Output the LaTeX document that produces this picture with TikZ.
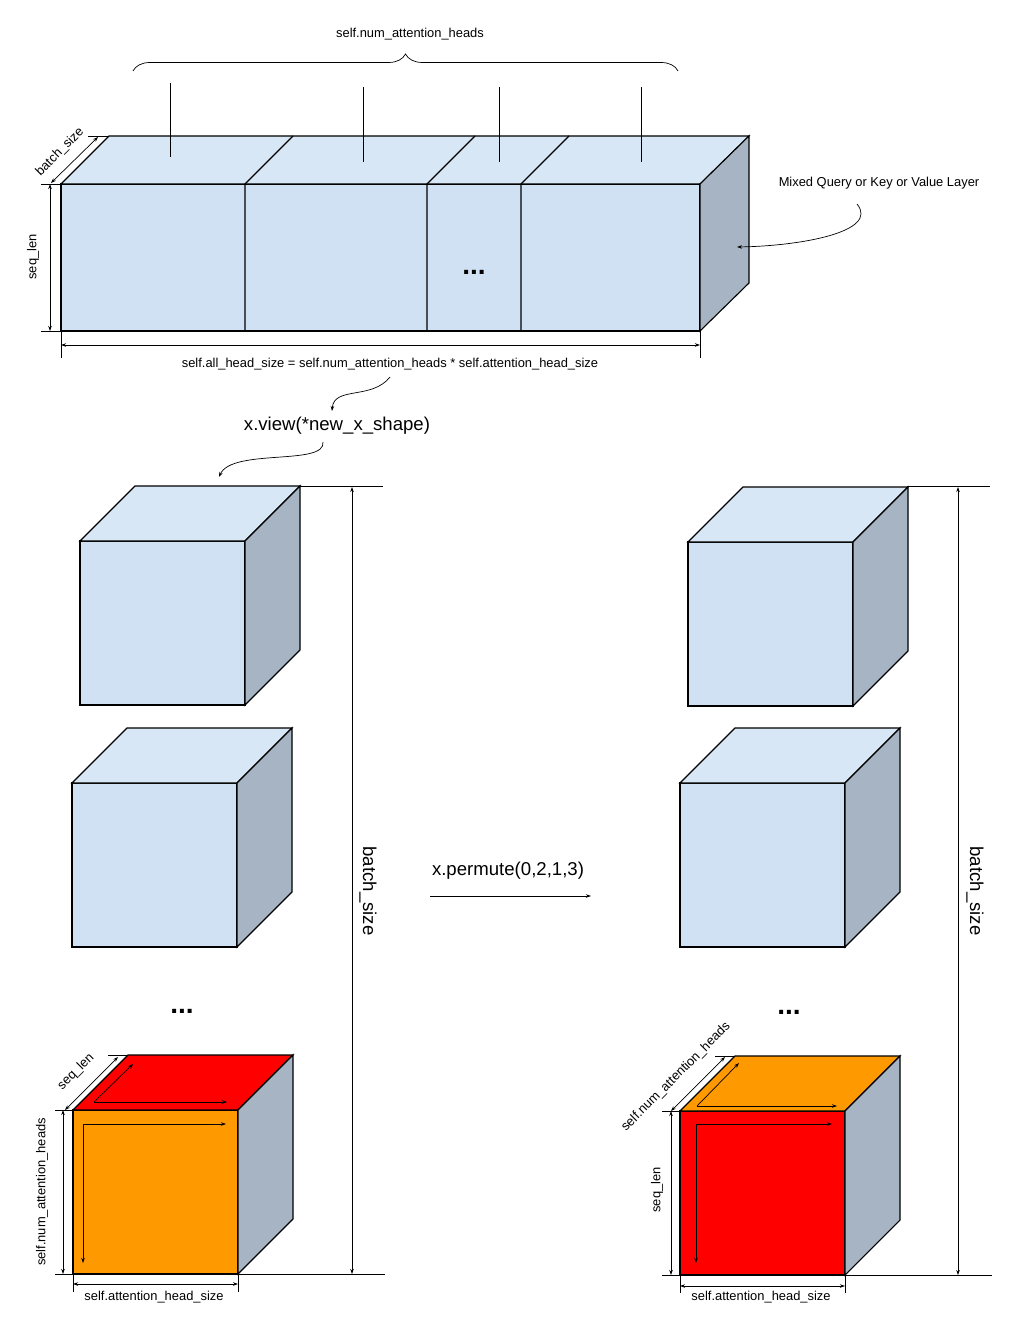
\documentclass[tikz,border=0pt]{standalone}
\usepackage{fontspec}
\setmainfont{Liberation Sans}
\usetikzlibrary{arrows.meta, decorations.pathreplacing}

\definecolor{frontblue}{RGB}{207,225,242}
\definecolor{topblue}{RGB}{216,231,245}
\definecolor{sidegray}{RGB}{166,180,195}
\definecolor{headorange}{RGB}{255,153,0}
\definecolor{headred}{RGB}{255,0,0}

\tikzset{
  face/.style={draw=black, line width=1.1pt, line join=miter},
  dim/.style={line width=0.7pt, {Stealth[length=5pt,width=3.5pt]}-{Stealth[length=5pt,width=3.5pt]}},
  ptr/.style={line width=0.7pt, -{Stealth[length=5pt,width=3.5pt]}},
  ext/.style={line width=0.7pt},
  small/.style={font=\fontsize{12.9}{15}\selectfont},
  big/.style={font=\fontsize{18.6}{22}\selectfont},
  dots/.style={font=\bfseries\fontsize{28}{30}\selectfont},
}

\begin{document}
\begin{tikzpicture}[x=1pt, y=-1pt]
    \useasboundingbox (0,0) rectangle (1021,1332);

    % the mixed layer
    \draw[face, fill=frontblue] (61,184) rectangle (700,331);
    \draw[face, fill=topblue] (61,184) -- (109,136) -- (749,136) -- (700,184) -- cycle;
    \draw[face, fill=sidegray] (700,184) -- (749,136) -- (749,283) -- (700,331) -- cycle;
    \foreach \x in {245,427,521}
        \draw[face] (\x,331) -- (\x,184) -- ++(48,-48);
    \node[dots] (dotsA) at (474,272) {...};

    % one line per head, and the brace over them
    \draw[ext] (170,83) -- (170,157);
    \foreach \x in {363,499,641}
        \draw[ext] (\x,87) -- (\x,162);
    \draw[ext, decorate, decoration={brace, amplitude=17pt}] (133,71) -- (678,71);
    \node[small] (heads) at (410,34) {self.num\_attention\_heads};

    % sizes of the layer
    \draw[ext] (88,136) -- (109,136);
    \draw[ext] (41,184) -- (61,184);
    \draw[ext] (41,331) -- (61,331);
    \draw[ext] (61,331) -- (61,358);
    \draw[ext] (700,331) -- (700,358);
    \draw[dim] (51,183) -- (98,137);
    \draw[dim] (50,184) -- (50,331);
    \draw[dim] (61,345) -- (700,345);
    \node[small, rotate=45] (batchtop) at (60,152) {batch\_size};
    \node[small, rotate=90] (seqtop) at (33,257) {seq\_len};
    \node[small] (allsize) at (390,364) {self.all\_head\_size = self.num\_attention\_heads * self.attention\_head\_size};

    \node[small] (layer) at (879,183) {Mixed Query or Key or Value Layer};
    \coordinate (layertail) at (857,204);
    \coordinate (layerhead) at (737,247);
    \draw[ptr] (layertail) .. controls (880,232) and (800,246) .. (layerhead);

    % view
    \node[big] (view) at (337,426) {x.view(*new\_x\_shape)};
    \coordinate (viewin) at (390,377);
    \coordinate (viewtop) at (332,411);
    \coordinate (viewout) at (323,442);
    \coordinate (cubetop) at (219,477);
    \draw[ptr] (viewin) .. controls (372,400) and (334,386) .. (viewtop);
    \draw[ptr] (viewout) .. controls (326,466) and (232,448) .. (cubetop);

    % blue cubes
    \foreach \x/\y in {80/541, 72/783, 688/542, 680/783} {
        \draw[face, fill=frontblue] (\x,\y) rectangle ++(165,164);
        \draw[face, fill=topblue] (\x,\y) -- ++(55,-55) -- ++(165,0) -- ++(-55,55) -- cycle;
        \draw[face, fill=sidegray] (\x+165,\y) -- ++(55,-55) -- ++(0,164) -- ++(-55,55) -- cycle;
    }
    \node[dots] (dotsL) at (182,1011) {...};
    \node[dots] (dotsR) at (789,1012) {...};

    % coloured cube before permute
    \draw[face, fill=headorange] (73,1110) rectangle ++(165,164);
    \draw[face, fill=headred] (73,1110) -- ++(55,-55) -- ++(165,0) -- ++(-55,55) -- cycle;
    \draw[face, fill=sidegray] (238,1110) -- ++(55,-55) -- ++(0,164) -- ++(-55,55) -- cycle;
    \draw[line width=2pt] (73,1110) -- (73,1274) -- (238,1274);
    \draw[ptr] (83,1124) -- (226,1124);
    \draw[ptr] (83,1124) -- (83,1263);
    \draw[ptr] (94,1102) -- (227,1102);
    \draw[ptr] (94,1102) -- (133,1064);

    \draw[ext] (108,1055) -- (128,1055);
    \draw[ext] (55,1110) -- (73,1110);
    \draw[ext] (55,1274) -- (73,1274);
    \draw[ext] (73,1274) -- (73,1292);
    \draw[ext] (238,1274) -- (238,1292);
    \draw[dim] (65,1110) -- (118,1057);
    \draw[dim] (63,1110) -- (63,1274);
    \draw[dim] (73,1284) -- (238,1284);
    \node[small, rotate=45] (seqL) at (76,1072) {seq\_len};
    \node[small, rotate=90] (headsL) at (42,1192) {self.num\_attention\_heads};
    \node[small] (sizeL) at (154,1297) {self.attention\_head\_size};

    % coloured cube after permute
    \draw[face, fill=headred] (680,1111) rectangle ++(165,164);
    \draw[face, fill=headorange] (680,1111) -- ++(55,-55) -- ++(165,0) -- ++(-55,55) -- cycle;
    \draw[face, fill=sidegray] (845,1111) -- ++(55,-55) -- ++(0,164) -- ++(-55,55) -- cycle;
    \draw[line width=2pt] (680,1111) -- (680,1275);
    \draw[ptr] (696,1124) -- (832,1124);
    \draw[ptr] (696,1124) -- (696,1263);
    \draw[ptr] (697,1106) -- (837,1106);
    \draw[ptr] (697,1106) -- (739,1063);

    \draw[ext] (715,1056) -- (735,1056);
    \draw[ext] (662,1111) -- (680,1111);
    \draw[ext] (662,1275) -- (680,1275);
    \draw[ext] (680,1275) -- (680,1293);
    \draw[ext] (845,1275) -- (845,1293);
    \draw[dim] (671,1111) -- (725,1057);
    \draw[dim] (671,1111) -- (671,1275);
    \draw[dim] (680,1286) -- (845,1286);
    \node[small, rotate=45] (headsR) at (676,1077) {self.num\_attention\_heads};
    \node[small, rotate=90] (seqR) at (657,1190) {seq\_len};
    \node[small] (sizeR) at (761,1297) {self.attention\_head\_size};

    % batch sizes
    \draw[ext] (300,486) -- (383,486);
    \draw[ext] (238,1274) -- (385,1274);
    \draw[dim] (352,487) -- (352,1274);
    \node[big, rotate=-90] (batchL) at (368,891) {batch\_size};
    \draw[ext] (907,486) -- (990,486);
    \draw[ext] (845,1275) -- (992,1275);
    \draw[dim] (958,487) -- (958,1275);
    \node[big, rotate=-90] (batchR) at (975,891) {batch\_size};

    % permute
    \node[big] (permute) at (508,871) {x.permute(0,2,1,3)};
    \coordinate (permfrom) at (430,896);
    \coordinate (permto) at (591,896);
    \draw[ptr] (permfrom) -- (permto);
\end{tikzpicture}
\end{document}
